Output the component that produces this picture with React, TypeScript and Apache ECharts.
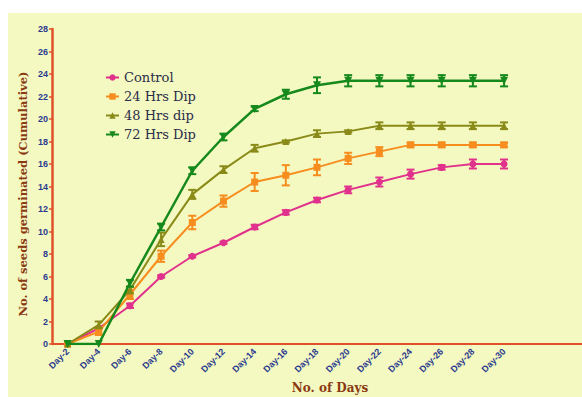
import React, { useEffect, useRef } from "react";
import * as echarts from "echarts";

const days = ["Day-2","Day-4","Day-6","Day-8","Day-10","Day-12","Day-14","Day-16","Day-18","Day-20","Day-22","Day-24","Day-26","Day-28","Day-30"];
const extraSlots = ["", ""];
const yTicks = { min: 0, max: 28, interval: 2 };

const seriesNames = ["Control", "24 Hrs Dip", "48 Hrs dip", "72 Hrs Dip"];
const control = [0, 1.4, 3.4, 6.0, 7.8, 9.0, 10.4, 11.7, 12.8, 13.7, 14.4, 15.1, 15.7, 16.0, 16.0];
const dip24 = [0, 1.1, 4.4, 7.8, 10.8, 12.7, 14.4, 15.0, 15.7, 16.5, 17.1, 17.7, 17.7, 17.7, 17.7];
const dip48 = [0, 1.7, 4.8, 9.3, 13.3, 15.5, 17.4, 18.0, 18.7, 18.9, 19.4, 19.4, 19.4, 19.4, 19.4];
const dip72 = [0, 0, 5.4, 10.4, 15.4, 18.4, 20.9, 22.2, 23.0, 23.4, 23.4, 23.4, 23.4, 23.4, 23.4];

const errControl = [0, 0, 0.2, 0.1, 0.1, 0.1, 0.2, 0.2, 0.2, 0.3, 0.4, 0.4, 0.2, 0.4, 0.4];
const err24 = [0, 0.3, 0.4, 0.5, 0.6, 0.5, 0.8, 0.9, 0.7, 0.5, 0.4, 0.2, 0.2, 0.2, 0.2];
const err48 = [0, 0.3, 0.3, 0.6, 0.4, 0.3, 0.3, 0.1, 0.3, 0.1, 0.3, 0.3, 0.3, 0.3, 0.3];
const err72 = [0, 0, 0.3, 0.3, 0.3, 0.3, 0.2, 0.4, 0.7, 0.5, 0.5, 0.5, 0.5, 0.5, 0.5];

const colors = ["#e0328c", "#f68d1e", "#8a8a18", "#16891c"];
const symbols = ["circle", "rect", "triangle", "triangle"];
const symbolRotates = [0, 0, 0, 180];
const symbolSizes = [7, 7, 7, 8];

export default function App() {
  const ref = useRef<HTMLDivElement>(null);
  useEffect(() => {
    if (!ref.current) return;
    const chart = echarts.init(ref.current, null, { renderer: "svg" });
    const allValues = [control, dip24, dip48, dip72];
    const allErr = [errControl, err24, err48, err72];
    const navy = "#2b3a8f";
    const axisRed = "#e0502a";
    const brown = "#8a3a12";

    const lineSeries = allValues.map((vals, k) => ({
      name: seriesNames[k],
      type: "line",
      data: vals,
      symbol: symbols[k],
      symbolRotate: symbolRotates[k],
      symbolSize: symbolSizes[k],
      lineStyle: { color: colors[k], width: k === 3 ? 2.5 : 2 },
      itemStyle: { color: colors[k] },
      z: 3 + k,
    }));

    const errSeries = allValues.map((vals, k) => ({
      name: seriesNames[k],
      type: "custom",
      data: vals.map((v, i) => [i, v - allErr[k][i], v + allErr[k][i], allErr[k][i]]),
      z: 3 + k,
      renderItem: (params: any, api: any) => {
        if (api.value(3) <= 0) return null;
        const lo = api.coord([api.value(0), api.value(1)]);
        const hi = api.coord([api.value(0), api.value(2)]);
        const hw = 4;
        const style = { stroke: colors[k], lineWidth: 2 };
        return {
          type: "group",
          children: [
            { type: "line", shape: { x1: hi[0], y1: hi[1], x2: lo[0], y2: lo[1] }, style },
            { type: "line", shape: { x1: hi[0] - hw, y1: hi[1], x2: hi[0] + hw, y2: hi[1] }, style },
            { type: "line", shape: { x1: lo[0] - hw, y1: lo[1], x2: lo[0] + hw, y2: lo[1] }, style },
          ],
        };
      },
    }));

    chart.setOption({
      animation: false,
      color: colors,
      grid: { left: 52, top: 29, right: -3, bottom: 53, containLabel: false },
      legend: {
        data: seriesNames,
        orient: "vertical",
        left: 100,
        top: 66,
        itemGap: 6,
        itemWidth: 13,
        itemHeight: 8,
        textStyle: { fontFamily: "DejaVu Serif", fontSize: 13, color: "#2b2d4a" },
      },
      xAxis: {
        type: "category",
        data: [...days, ...extraSlots],
        boundaryGap: true,
        axisLine: { lineStyle: { color: axisRed, width: 2 } },
        axisTick: {
          alignWithLabel: true,
          length: 4,
          interval: (i: number) => i < days.length,
          lineStyle: { color: axisRed, width: 2 },
        },
        axisLabel: {
          rotate: 45,
          interval: 0,
          fontSize: 9,
          fontWeight: "bold",
          fontFamily: "Liberation Sans",
          color: navy,
          margin: 6,
        },
        splitLine: { show: false },
      },
      yAxis: {
        type: "value",
        min: yTicks.min,
        max: yTicks.max,
        interval: yTicks.interval,
        axisLine: { show: true, lineStyle: { color: axisRed, width: 2.5 } },
        axisTick: { show: true, length: 3, lineStyle: { color: axisRed, width: 1.5 } },
        axisLabel: {
          fontSize: 9,
          fontWeight: "bold",
          fontFamily: "Liberation Sans",
          color: navy,
          margin: 4,
        },
        splitLine: { show: false },
      },
      graphic: [
        {
          type: "text",
          x: 23,
          y: 194,
          rotation: Math.PI / 2,
          style: {
            text: "No. of seeds germinated (Cumulative)",
            fontFamily: "DejaVu Serif",
            fontWeight: "bold",
            fontSize: 11.5,
            fill: brown,
            align: "center",
            verticalAlign: "middle",
          },
        },
        {
          type: "text",
          x: 330,
          y: 388,
          style: {
            text: "No. of Days",
            fontFamily: "DejaVu Serif",
            fontWeight: "bold",
            fontSize: 12,
            fill: brown,
            align: "center",
            verticalAlign: "middle",
          },
        },
      ],
      series: [...lineSeries, ...errSeries],
    });
    return () => chart.dispose();
  }, []);

  return (
    <div style={{ position: "absolute", left: 0, top: 0, width: 582, height: 397, background: "#ffffff" }}>
      <div style={{ position: "absolute", left: 8, top: 13, width: 574, height: 384, background: "#f4f9c1" }} />
      <div ref={ref} style={{ position: "absolute", left: 0, top: 0, width: 582, height: 397 }} />
    </div>
  );
}
